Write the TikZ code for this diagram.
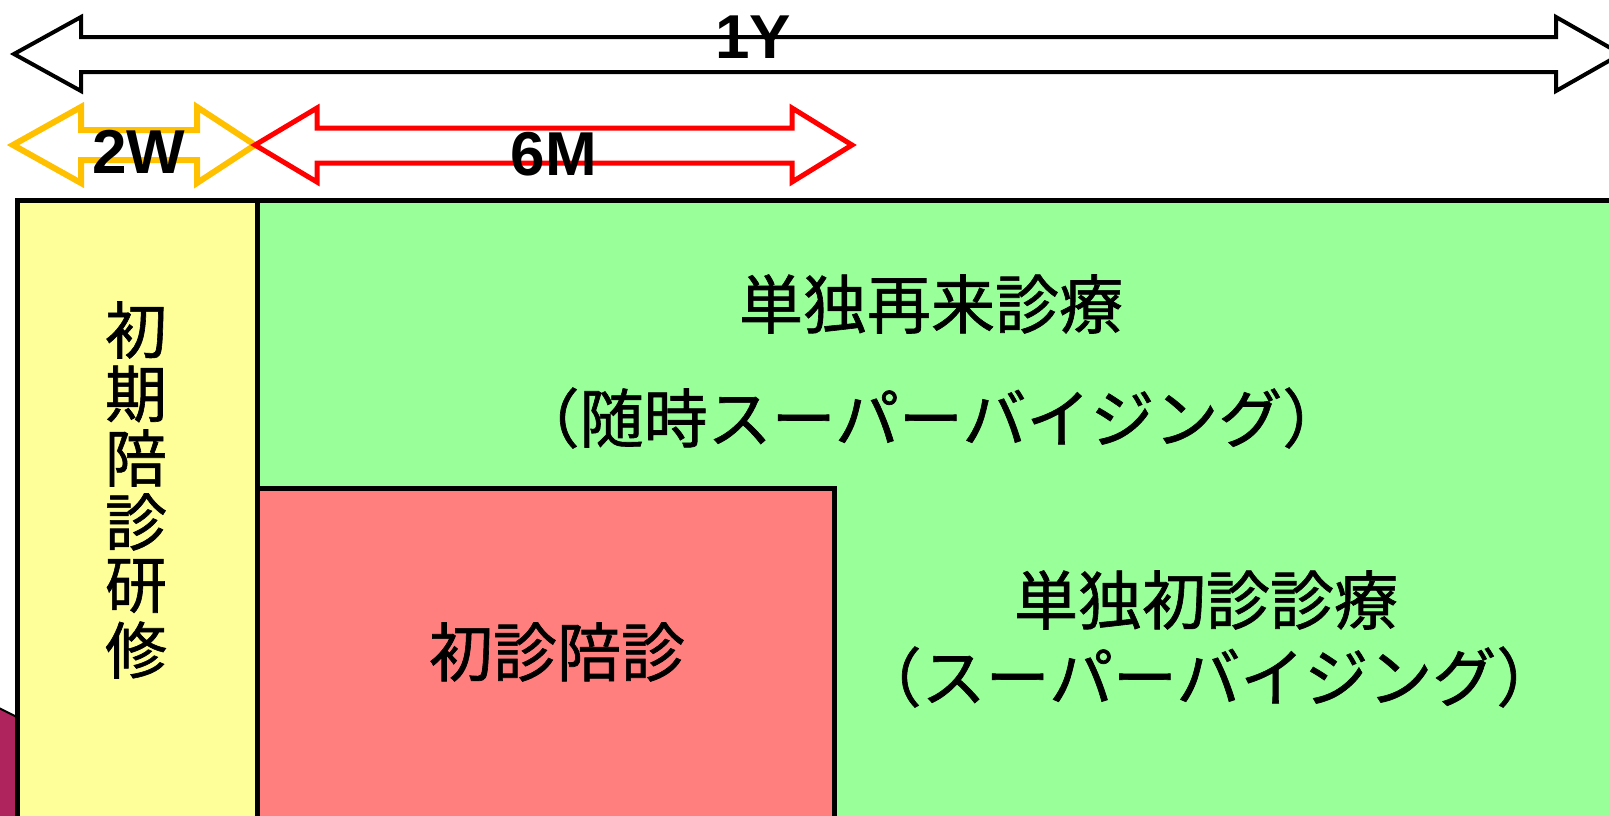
\documentclass[tikz,border=0pt]{standalone}
\usepackage{fontspec}
\setmainfont{Liberation Sans}
\newfontfamily\jp[FakeBold=1]{Noto Sans CJK JP}
\begin{document}
\begin{tikzpicture}[x=1pt,y=-1pt,
  boxline/.style={draw=black,line width=5pt},
  jptext/.style={font=\jp\fontsize{64}{72}\selectfont,inner sep=0pt},
  vtext/.style={font=\jp\fontsize{62}{72}\selectfont,inner sep=0pt},
  lbl/.style={font=\bfseries\fontsize{62}{70}\selectfont,inner sep=0pt}]
\useasboundingbox (0,0) rectangle (1609,815);
\fill[white] (0,0) rectangle (1609,815);
% left-edge fragment
\filldraw[fill={rgb,255:red,176;green,36;blue,94},draw=black,line width=2pt] (-5,706) -- (17,717) -- (17,830) -- (-5,830) -- cycle;
% arrows
\draw[black,line width=4pt,fill=white,line join=miter] (14,54) -- (81,17) -- (81,37) -- (1556,37) -- (1556,17) -- (1621,54) -- (1556,91) -- (1556,72) -- (81,72) -- (81,91) -- cycle;
\node[lbl] (y1) at (753,37) {1Y};
\draw[draw={rgb,255:red,255;green,192;blue,0},line width=6pt,fill=white] (13,145) -- (81,107) -- (81,130) -- (197,130) -- (197,107) -- (255,145) -- (197,183) -- (197,160) -- (81,160) -- (81,183) -- cycle;
\draw[draw={rgb,255:red,255;green,0;blue,0},line width=5pt,fill=white] (255,145) -- (317,108) -- (317,128) -- (792,128) -- (792,108) -- (852,145) -- (792,182) -- (792,163) -- (317,163) -- (317,182) -- cycle;
\node[lbl] (w2) at (139,152) {2W};
\node[lbl] (m6) at (554,154) {6M};
% boxes
\filldraw[boxline,fill={rgb,255:red,153;green,255;blue,153}] (257,200) rectangle (1640,840);
\filldraw[boxline,fill={rgb,255:red,255;green,255;blue,153}] (17,200) rectangle (257,840);
\filldraw[boxline,fill={rgb,255:red,255;green,127;blue,127}] (257,488) rectangle (834,840);
% texts
\node[jptext] (t1) at (931,304) {単独再来診療};
\node[jptext] (t2) at (931,418) {（随時スーパーバイジング）};
\node[jptext] (t3) at (1206,600) {単独初診診療};
\node[jptext] (t4) at (1209,677) {（スーパーバイジング）};
\node[jptext] (t5) at (557,652) {初診陪診};
\node[vtext] (v1) at (136,330) {初};
\node[vtext] (v2) at (136,394) {期};
\node[vtext] (v3) at (136,458) {陪};
\node[vtext] (v4) at (136,522) {診};
\node[vtext] (v5) at (136,586) {研};
\node[vtext] (v6) at (136,650) {修};
\end{tikzpicture}
\end{document}
